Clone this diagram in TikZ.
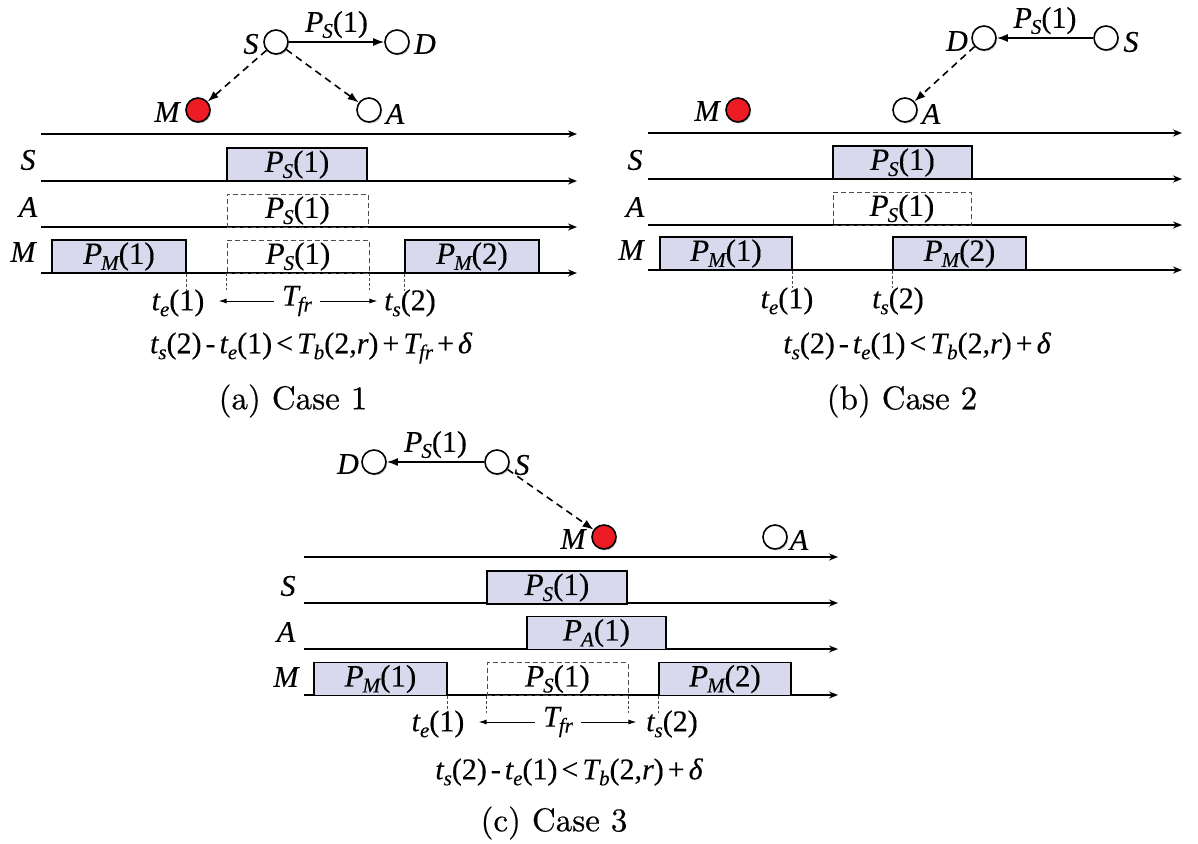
\documentclass[tikz,border=0pt]{standalone}
\usepackage{fontspec}
\usepackage{graphicx}
\newfontfamily\tms{Liberation Serif}[FakeBold=0.25]
\newfontfamily\capfont{lmroman10-regular.otf}[FakeBold=0.5]
\usetikzlibrary{arrows.meta,shadows}
\definecolor{boxfill}{RGB}{217,217,238}
\definecolor{nodered}{RGB}{237,28,36}
\newcommand\ti[1]{{\tms\itshape #1}}
\newcommand\sbs[1]{\raisebox{-6pt}{\fontsize{21}{21}\selectfont\tms\itshape #1}}
\newcommand\rp[1]{{\tms #1}}
\newcommand\gp{\hspace{4pt}}
\newcommand\PP[2]{\ti{P}\kern-1pt\sbs{#1}\rp{(#2)}}
\tikzset{
  nd/.style={circle, draw=black, line width=1.6pt, fill=white, minimum size=24pt, inner sep=0pt,
    drop shadow={shadow xshift=1.2pt, shadow yshift=-1.5pt, opacity=0.4}},
  rednd/.style={nd, fill=nodered},
  tl/.style={font=\fontsize{30}{32}\selectfont\tms\itshape, inner sep=0pt},
  txt/.style={font=\fontsize{30}{32}\selectfont\tms, inner sep=0pt},
  captxt/.style={font=\fontsize{33}{35}\selectfont\capfont, inner sep=0pt},
  axis/.style={line width=1.6pt, -{Stealth[length=9pt,width=7pt]}},
  pbox/.style={draw, line width=1.8pt, fill=boxfill, inner sep=0pt, minimum height=33pt, font=\fontsize{31}{33}\selectfont},
  dbox/.style={draw=black!70, line width=0.9pt, dash pattern=on 5pt off 3pt, inner sep=0pt, minimum height=33pt, font=\fontsize{31}{33}\selectfont},
  tick/.style={draw=black!70, line width=0.9pt, dash pattern=on 3pt off 2pt},
  sendarr/.style={line width=1.6pt, -{Latex[length=11pt,width=8pt]}},
  ovhr/.style={line width=1.6pt, dash pattern=on 7pt off 5pt, -{Latex[length=11pt,width=8pt]}},
  tarr/.style={line width=1pt, -{Latex[length=8pt,width=5pt]}}
}
\begin{document}
\begin{tikzpicture}[x=1pt,y=-1pt]
\useasboundingbox (0,0) rectangle (1198,843);
% ================= (a) =================
\node[nd] (aS) at (276,42) {};
\node[nd] (aD) at (397,42) {};
\node[rednd] (aM) at (198,110) {};
\node[nd] (aA) at (369,110) {};
\node[tl] (aSl) at (251,44) {S};
\node[tl] (aDl) at (425,44) {D};
\node[tl] (aMl) at (167,112) {M};
\node[tl] (aAl) at (395,114) {A};
\draw[sendarr] (aS) -- (aD) node[midway, above=3pt, inner sep=0pt, font=\fontsize{30}{32}\selectfont] (aPl) {\PP{S}{1}};
\draw[ovhr] (aS) -- (aM);
\draw[ovhr] (aS) -- (aA);
% axes
\coordinate (aX0s) at (41,134); \coordinate (aX0e) at (577,134);
\coordinate (aX1s) at (41,181); \coordinate (aX1e) at (577,181);
\coordinate (aX2s) at (41,227); \coordinate (aX2e) at (577,227);
\coordinate (aX3s) at (41,273); \coordinate (aX3e) at (577,273);
\draw[axis] (aX0s) -- (aX0e);
\draw[axis] (aX1s) -- (aX1e);
\draw[axis] (aX2s) -- (aX2e);
\draw[axis] (aX3s) -- (aX3e);
\node[tl] (aRS) at (28,160) {S};
\node[tl] (aRA) at (28,207) {A};
\node[tl] (aRM) at (23,252) {M};
\node[pbox, minimum width=140pt] (aBS) at (297,164.5) {\PP{S}{1}};
\node[dbox, minimum width=141pt] (aBA) at (297.5,210.5) {\PP{S}{1}};
\node[pbox, minimum width=134pt] (aBM1) at (119,256.5) {\PP{M}{1}};
\node[dbox, minimum width=142pt] (aBM) at (298,256.5) {\PP{S}{1}};
\node[pbox, minimum width=134pt] (aBM2) at (472,256.5) {\PP{M}{2}};
\draw[tick] (aBM1.south east) -- ++(0,17);
\draw[tick] (aBM.south west) -- ++(0,17);
\draw[tick] (aBM.south east) -- ++(0,17);
\draw[tick] (aBM2.south west) -- ++(0,17);
\node[txt] (aTe) at (178,303) {\ti{t}\sbs{e}\rp{(1)}};
\node[txt] (aTs) at (410,303) {\ti{t}\sbs{s}\rp{(2)}};
\node[txt] (aTfr) at (297,301) {\ti{T}\kern-1pt\sbs{fr}};
\draw[tarr] ([xshift=-8pt]aTfr.west) -- ([xshift=-8pt]aTfr.west -| aBM.west);
\draw[tarr] ([xshift=8pt]aTfr.east) -- ([xshift=8pt]aTfr.east -| aBM.east);
\node[txt] (aF) at (311,348) {\ti{t}\sbs{s}\rp{(2)}\gp\rp{-}\gp\ti{t}\sbs{e}\rp{(1)}\gp\rp{<}\gp\ti{T}\sbs{b}\rp{(2,}\ti{r}\rp{)}\gp\rp{+}\gp\ti{T}\kern-1pt\sbs{fr}\gp\rp{+}\gp\ti{δ}};
\node[captxt] (aC) at (293,401) {(a) Case 1};
% ================= (b) =================
\node[nd] (bD) at (984,38) {};
\node[nd] (bS) at (1106,38) {};
\node[rednd] (bM) at (738,110) {};
\node[nd] (bA) at (905,110) {};
\node[tl] (bDl) at (957,41) {D};
\node[tl] (bSl) at (1131,42) {S};
\node[tl] (bMl) at (707,111) {M};
\node[tl] (bAl) at (931,114) {A};
\draw[sendarr] (bS) -- (bD) node[midway, above=3pt, inner sep=0pt, font=\fontsize{30}{32}\selectfont] (bPl) {\PP{S}{1}};
\draw[ovhr] (bD) -- (bA);
\coordinate (bX0s) at (648,133); \coordinate (bX0e) at (1182,133);
\coordinate (bX1s) at (648,179); \coordinate (bX1e) at (1182,179);
\coordinate (bX2s) at (648,225); \coordinate (bX2e) at (1182,225);
\coordinate (bX3s) at (648,270); \coordinate (bX3e) at (1182,270);
\draw[axis] (bX0s) -- (bX0e);
\draw[axis] (bX1s) -- (bX1e);
\draw[axis] (bX2s) -- (bX2e);
\draw[axis] (bX3s) -- (bX3e);
\node[tl] (bRS) at (635,160) {S};
\node[tl] (bRA) at (635,207) {A};
\node[tl] (bRM) at (631,250) {M};
\node[pbox, minimum width=139pt] (bBS) at (902.5,162.5) {\PP{S}{1}};
\node[dbox, minimum width=138pt] (bBA) at (902,208.5) {\PP{S}{1}};
\node[pbox, minimum width=132pt] (bBM1) at (726,253.5) {\PP{M}{1}};
\node[pbox, minimum width=133pt] (bBM2) at (959.5,253.5) {\PP{M}{2}};
\draw[tick] (bBM1.south east) -- ++(0,17);
\draw[tick] (bBM2.south west) -- ++(0,17);
\node[txt] (bTe) at (787,301) {\ti{t}\sbs{e}\rp{(1)}};
\node[txt] (bTs) at (898,301) {\ti{t}\sbs{s}\rp{(2)}};
\node[txt] (bF) at (917,346) {\ti{t}\sbs{s}\rp{(2)}\gp\rp{-}\gp\ti{t}\sbs{e}\rp{(1)}\gp\rp{<}\gp\ti{T}\sbs{b}\rp{(2,}\ti{r}\rp{)}\gp\rp{+}\gp\ti{δ}};
\node[captxt] (bC) at (902,401) {(b) Case 2};
% ================= (c) =================
\node[nd] (cD) at (374,462) {};
\node[nd] (cS) at (497,462) {};
\node[rednd] (cM) at (604,537) {};
\node[nd] (cA) at (775,537) {};
\node[tl] (cDl) at (348,464) {D};
\node[tl] (cSl) at (522,465) {S};
\node[tl] (cMl) at (573,539) {M};
\node[tl] (cAl) at (799,540) {A};
\draw[sendarr] (cS) -- (cD) node[midway, above=3pt, inner sep=0pt, font=\fontsize{30}{32}\selectfont] (cPl) {\PP{S}{1}};
\draw[ovhr] (cS) -- (cM);
\coordinate (cX0s) at (304,557); \coordinate (cX0e) at (838,557);
\coordinate (cX1s) at (304,603); \coordinate (cX1e) at (838,603);
\coordinate (cX2s) at (304,649); \coordinate (cX2e) at (838,649);
\coordinate (cX3s) at (304,695); \coordinate (cX3e) at (838,695);
\draw[axis] (cX0s) -- (cX0e);
\draw[axis] (cX1s) -- (cX1e);
\draw[axis] (cX2s) -- (cX2e);
\draw[axis] (cX3s) -- (cX3e);
\node[tl] (cRS) at (288,586) {S};
\node[tl] (cRA) at (286,632) {A};
\node[tl] (cRM) at (286,677) {M};
\node[pbox, minimum width=140pt] (cBS) at (557,587.5) {\PP{S}{1}};
\node[pbox, minimum width=139pt] (cBA) at (596.5,633) {\PP{A}{1}};
\node[pbox, minimum width=133pt] (cBM1) at (380.5,679) {\PP{M}{1}};
\node[dbox, minimum width=141pt] (cBM) at (557.5,679) {\PP{S}{1}};
\node[pbox, minimum width=132pt] (cBM2) at (725,679) {\PP{M}{2}};
\draw[tick] (cBM1.south east) -- ++(0,17);
\draw[tick] (cBM.south west) -- ++(0,17);
\draw[tick] (cBM.south east) -- ++(0,17);
\draw[tick] (cBM2.south west) -- ++(0,17);
\node[txt] (cTe) at (438,724) {\ti{t}\sbs{e}\rp{(1)}};
\node[txt] (cTs) at (672,724) {\ti{t}\sbs{s}\rp{(2)}};
\node[txt] (cTfr) at (558,722) {\ti{T}\kern-1pt\sbs{fr}};
\draw[tarr] ([xshift=-8pt]cTfr.west) -- ([xshift=-8pt]cTfr.west -| cBM.west);
\draw[tarr] ([xshift=8pt]cTfr.east) -- ([xshift=8pt]cTfr.east -| cBM.east);
\node[txt] (cF) at (569,772) {\ti{t}\sbs{s}\rp{(2)}\gp\rp{-}\gp\ti{t}\sbs{e}\rp{(1)}\gp\rp{<}\gp\ti{T}\sbs{b}\rp{(2,}\ti{r}\rp{)}\gp\rp{+}\gp\ti{δ}};
\node[captxt] (cC) at (554,823) {(c) Case 3};
\end{tikzpicture}
\end{document}
